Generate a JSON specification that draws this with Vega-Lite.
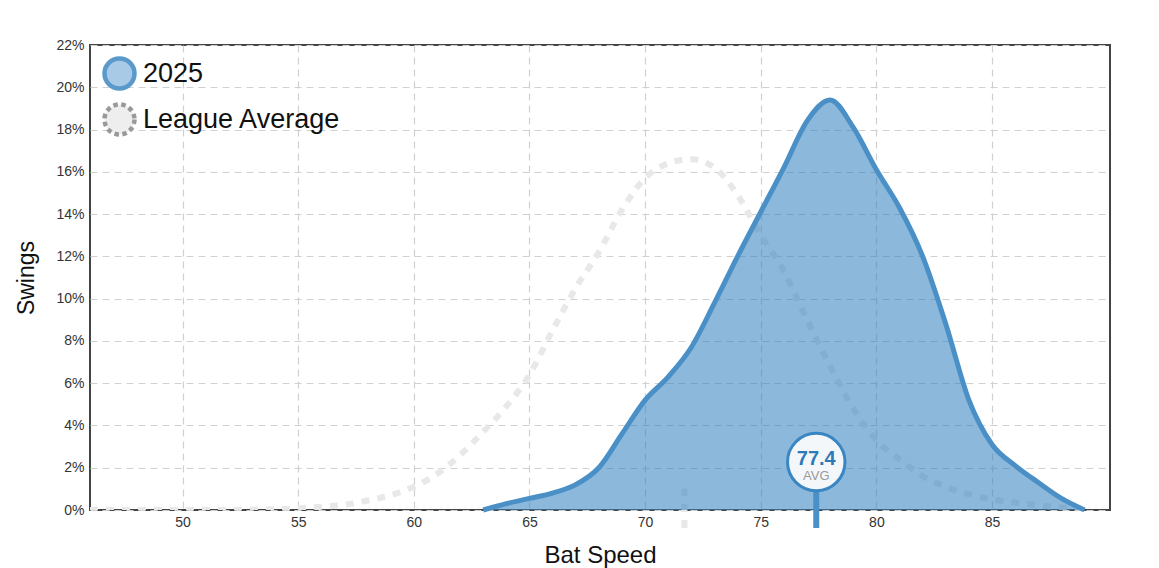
{
  "$schema": "https://vega.github.io/schema/vega-lite/v6.json",
  "width": 1020,
  "height": 465,
  "autosize": {"type": "none"},
  "padding": {"left": 90, "top": 45, "right": 49, "bottom": 58},
  "background": "white",
  "config": {
    "font": "Liberation Sans",
    "view": {"stroke": "#444444", "strokeWidth": 2},
    "axis": {"gridColor": "#d0d0d0", "gridDash": [7, 5], "gridWidth": 1.2, "domain": false, "ticks": false, "labelColor": "#333333", "labelFontSize": 14, "titleFontSize": 23, "titleFontWeight": "normal", "titleColor": "#111111"},
    "legend": {"padding": 0, "symbolType": "circle", "symbolSize": 900, "symbolStrokeWidth": 4.5, "labelFontSize": 27, "labelColor": "#111111", "labelOffset": 6, "labelLimit": 400}
  },
  "datasets": {
    "curves": [
      {"series": "League Average", "speed": 46, "share": 0},
      {"series": "League Average", "speed": 48, "share": 0},
      {"series": "League Average", "speed": 50, "share": 0},
      {"series": "League Average", "speed": 52, "share": 0},
      {"series": "League Average", "speed": 54, "share": 0.0003},
      {"series": "League Average", "speed": 55, "share": 0.0008},
      {"series": "League Average", "speed": 56, "share": 0.0015},
      {"series": "League Average", "speed": 57, "share": 0.0025},
      {"series": "League Average", "speed": 58, "share": 0.0045},
      {"series": "League Average", "speed": 59, "share": 0.007},
      {"series": "League Average", "speed": 60, "share": 0.011},
      {"series": "League Average", "speed": 61, "share": 0.017},
      {"series": "League Average", "speed": 62, "share": 0.026},
      {"series": "League Average", "speed": 63, "share": 0.037},
      {"series": "League Average", "speed": 64, "share": 0.049},
      {"series": "League Average", "speed": 65, "share": 0.064},
      {"series": "League Average", "speed": 66, "share": 0.085},
      {"series": "League Average", "speed": 67, "share": 0.105},
      {"series": "League Average", "speed": 68, "share": 0.122},
      {"series": "League Average", "speed": 69, "share": 0.142},
      {"series": "League Average", "speed": 70, "share": 0.157},
      {"series": "League Average", "speed": 71, "share": 0.164},
      {"series": "League Average", "speed": 72, "share": 0.166},
      {"series": "League Average", "speed": 73, "share": 0.162},
      {"series": "League Average", "speed": 74, "share": 0.149},
      {"series": "League Average", "speed": 75, "share": 0.13},
      {"series": "League Average", "speed": 76, "share": 0.113},
      {"series": "League Average", "speed": 77, "share": 0.09},
      {"series": "League Average", "speed": 78, "share": 0.068},
      {"series": "League Average", "speed": 79, "share": 0.048},
      {"series": "League Average", "speed": 80, "share": 0.033},
      {"series": "League Average", "speed": 81, "share": 0.024},
      {"series": "League Average", "speed": 82, "share": 0.016},
      {"series": "League Average", "speed": 83, "share": 0.011},
      {"series": "League Average", "speed": 84, "share": 0.0075},
      {"series": "League Average", "speed": 85, "share": 0.005},
      {"series": "League Average", "speed": 86, "share": 0.0035},
      {"series": "League Average", "speed": 87, "share": 0.0022},
      {"series": "League Average", "speed": 88, "share": 0.0012},
      {"series": "League Average", "speed": 89, "share": 0.0005},
      {"series": "2025", "speed": 63, "share": 0},
      {"series": "2025", "speed": 64, "share": 0.003},
      {"series": "2025", "speed": 65, "share": 0.0055},
      {"series": "2025", "speed": 66, "share": 0.008},
      {"series": "2025", "speed": 67, "share": 0.012},
      {"series": "2025", "speed": 68, "share": 0.02},
      {"series": "2025", "speed": 69, "share": 0.036},
      {"series": "2025", "speed": 70, "share": 0.052},
      {"series": "2025", "speed": 71, "share": 0.063},
      {"series": "2025", "speed": 72, "share": 0.077},
      {"series": "2025", "speed": 73, "share": 0.098},
      {"series": "2025", "speed": 74, "share": 0.12},
      {"series": "2025", "speed": 75, "share": 0.141},
      {"series": "2025", "speed": 76, "share": 0.162},
      {"series": "2025", "speed": 77, "share": 0.184},
      {"series": "2025", "speed": 78, "share": 0.194},
      {"series": "2025", "speed": 79, "share": 0.181},
      {"series": "2025", "speed": 80, "share": 0.161},
      {"series": "2025", "speed": 81, "share": 0.143},
      {"series": "2025", "speed": 82, "share": 0.12},
      {"series": "2025", "speed": 83, "share": 0.088},
      {"series": "2025", "speed": 84, "share": 0.052},
      {"series": "2025", "speed": 85, "share": 0.031},
      {"series": "2025", "speed": 86, "share": 0.021},
      {"series": "2025", "speed": 87, "share": 0.013},
      {"series": "2025", "speed": 88, "share": 0.0055},
      {"series": "2025", "speed": 89, "share": 0}
    ],
    "averages": [
      {"series": "League Average", "avg": 71.7},
      {"series": "2025", "avg": 77.4}
    ]
  },
  "layer": [
    {
      "data": {"name": "curves"},
      "transform": [{"filter": "datum.series === 'League Average'"}],
      "mark": {"type": "line", "interpolate": "monotone", "strokeWidth": 6, "strokeDash": [8, 8], "clip": true},
      "encoding": {
        "x": {"field": "speed", "type": "quantitative", "title": "Bat Speed",
              "scale": {"domain": [46, 90.1], "nice": false, "zero": false},
              "axis": {"values": [50, 55, 60, 65, 70, 75, 80, 85], "labelPadding": 5, "titlePadding": 14, "titleFontSize": 24}},
        "y": {"field": "share", "type": "quantitative", "title": "Swings",
              "scale": {"domain": [0, 0.22], "nice": false},
              "axis": {"values": [0, 0.02, 0.04, 0.06, 0.08, 0.1, 0.12, 0.14, 0.16, 0.18, 0.2, 0.22], "format": ".0%", "labelPadding": 6, "titlePadding": 17}},
        "color": {"field": "series", "type": "nominal",
                  "scale": {"domain": ["2025", "League Average"], "range": ["#3282be", "#e8e8e8"]},
                  "legend": null},
        "opacity": {"field": "series", "type": "nominal",
                  "scale": {"domain": ["League Average"], "range": [1, 1]},
                  "legend": {"title": null, "orient": "none", "legendX": 12, "legendY": 57, "symbolFillColor": "#eeeeee", "symbolStrokeColor": "#999999", "symbolDash": [4.5, 3.5], "symbolStrokeWidth": 4.5}}
      }
    },
    {
      "data": {"name": "averages"},
      "transform": [{"filter": "datum.series === 'League Average'"}],
      "mark": {"type": "rule", "color": "#e8e8e8", "strokeWidth": 6, "strokeDash": [8, 8], "clip": false},
      "encoding": {
        "x": {"field": "avg", "type": "quantitative"},
        "y": {"datum": -0.0085},
        "y2": {"datum": 0.01}
      }
    },
    {
      "data": {"name": "curves"},
      "transform": [{"filter": "datum.series === '2025'"}],
      "mark": {"type": "area", "interpolate": "monotone", "fillOpacity": 0.56},
      "encoding": {
        "x": {"field": "speed", "type": "quantitative"},
        "y": {"field": "share", "type": "quantitative"},
        "color": {"field": "series", "type": "nominal", "legend": null},
        "strokeWidth": {"field": "series", "type": "nominal",
                  "scale": {"domain": ["2025"], "range": [4.5, 4.5]},
                  "legend": {"title": null, "orient": "none", "legendX": 12, "legendY": 11, "symbolFillColor": "#a8cae6", "symbolStrokeColor": "#5a9acb"}}
      }
    },
    {
      "data": {"name": "curves"},
      "transform": [{"filter": "datum.series === '2025'"}],
      "mark": {"type": "line", "interpolate": "monotone", "strokeWidth": 5, "color": "#4a90c6"},
      "encoding": {
        "x": {"field": "speed", "type": "quantitative"},
        "y": {"field": "share", "type": "quantitative"}
      }
    },
    {
      "data": {"name": "averages"},
      "transform": [{"filter": "datum.series === '2025'"}],
      "mark": {"type": "rule", "color": "#4a90c6", "strokeWidth": 6, "clip": false},
      "encoding": {
        "x": {"field": "avg", "type": "quantitative"},
        "y": {"datum": -0.0085},
        "y2": {"datum": 0.01}
      }
    },
    {
      "data": {"name": "averages"},
      "transform": [{"filter": "datum.series === '2025'"}],
      "mark": {"type": "point", "shape": "circle", "filled": false, "fill": "#f4f7fa", "fillOpacity": 1, "stroke": "#3a86c2", "strokeOpacity": 1, "strokeWidth": 3, "size": 3300, "opacity": 1},
      "encoding": {
        "x": {"field": "avg", "type": "quantitative"},
        "y": {"datum": 0.0227}
      }
    },
    {
      "data": {"name": "averages"},
      "transform": [{"filter": "datum.series === '2025'"}],
      "mark": {"type": "text", "fontSize": 20, "fontWeight": "bold", "color": "#2e7ab8", "dy": -3, "baseline": "middle", "align": "center"},
      "encoding": {
        "x": {"field": "avg", "type": "quantitative"},
        "y": {"datum": 0.0227},
        "text": {"field": "avg", "type": "quantitative", "format": ".1f"}
      }
    },
    {
      "data": {"name": "averages"},
      "transform": [{"filter": "datum.series === '2025'"}],
      "mark": {"type": "text", "fontSize": 13, "color": "#999999", "dy": 14, "baseline": "middle", "align": "center", "text": "AVG"},
      "encoding": {
        "x": {"field": "avg", "type": "quantitative"},
        "y": {"datum": 0.0227}
      }
    }
  ]
}
